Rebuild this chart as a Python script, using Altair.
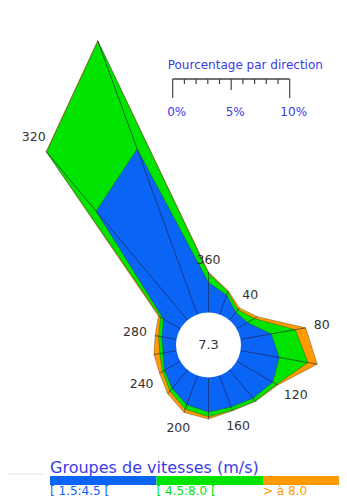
import altair as alt
import pandas as pd

# ---------------- data ----------------
DIRS = [20, 40, 60, 80, 100, 120, 140, 160, 180, 200, 220, 240, 260, 280, 300, 320, 340, 360]
LOW = [1.8, 0.9, 1.1, 2.7, 3.4, 3.6, 3.2, 2.9, 3.0, 2.7, 2.1, 1.6, 1.2, 1.3, 1.7, 12.2, 15.1, 2.6]
MID = [0.3, 0.3, 0.7, 2.1, 2.5, 0.4, 0.3, 0.3, 0.4, 0.4, 0.3, 0.2, 0.3, 0.3, 0.3, 6.6, 9.8, 0.8]
HIGH = [0.1, 0.2, 0.3, 0.9, 0.8, 0.1, 0.05, 0.05, 0.2, 0.3, 0.3, 0.3, 0.5, 0.3, 0.2, 0.05, 0.05, 0.1]
CALM = "7.3"
LABEL_DIRS = [360, 40, 80, 120, 160, 200, 240, 280, 320]
CLASSES = ["[ 1.5:4.5 [", "[ 4.5:8.0 [", "> à 8.0"]
COLORS = ["#0a64f5", "#00e400", "#ff9a00"]
SCALE_TICKS = list(range(0, 11))
SCALE_LABELS = ["0%", "5%", "10%"]
SCALE_LABEL_VALUES = [0, 5, 10]
SCALE_TITLE = "Pourcentage par direction"
LEGEND_TITLE = "Groupes de vitesses (m/s)"

# ---------------- layout ----------------
W, H = 331, 490
CX, CY, R0, K = 208.5, 345.0, 32.0, 11.7   # centre, calm-hole radius, px per percent
SBX0, SBY = 172.7, 79.0                     # scale bar origin
LEGX0, LEGW, LEGY = 50.0, 106.5, 476.0
FONT = "DejaVu Sans"
TXT_BLUE = "#3b3be8"

xs = alt.Scale(domain=[8, 8 + W], nice=False, zero=False)
ys = alt.Scale(domain=[8, 8 + H], nice=False, zero=False, reverse=True)


def X(f):
    return alt.X(f, type="quantitative", scale=xs, axis=None)


def Y(f):
    return alt.Y(f, type="quantitative", scale=ys, axis=None)


# polygons (cumulative)
rows = []
series = [LOW, MID, HIGH]
for k in range(3):
    for i, d in enumerate(DIRS):
        cum = sum(series[j][i] for j in range(k + 1))
        rows.append({"k": k, "cls": CLASSES[k], "dir": d, "cum": cum})
poly = pd.DataFrame(rows)

totals = pd.DataFrame({"dir": DIRS, "total": [LOW[i] + MID[i] + HIGH[i] for i in range(len(DIRS))]})

layers = []
for k in [2, 1, 0]:
    layers.append(
        alt.Chart(poly)
        .transform_filter(f"datum.k == {k}")
        .transform_calculate(
            r=f"{R0} + datum.cum * {K}",
            x=f"{CX} + datum.r * sin(datum.dir * PI / 180)",
            y=f"{CY} - datum.r * cos(datum.dir * PI / 180)",
        )
        .mark_line(interpolate="linear-closed", fill=COLORS[k], stroke="#222",
                   strokeWidth=0.6, strokeOpacity=0.55)
        .encode(x=X("x"), y=Y("y"), order=alt.Order("dir:Q"))
    )

# radial lines
layers.append(
    alt.Chart(totals)
    .transform_calculate(
        rt=f"{R0} + datum.total * {K}",
        s="sin(datum.dir * PI / 180)",
        c="cos(datum.dir * PI / 180)",
        x1=f"{CX} + {R0} * datum.s",
        y1=f"{CY} - {R0} * datum.c",
        x2=f"{CX} + datum.rt * datum.s",
        y2=f"{CY} - datum.rt * datum.c",
    )
    .mark_rule(color="#1c1c3c", strokeWidth=0.7, opacity=0.85)
    .encode(x=X("x1"), y=Y("y1"), x2="x2:Q", y2="y2:Q")
)

# calm hole
calm_df = pd.DataFrame({"calm": [CALM]})
layers.append(
    alt.Chart(calm_df)
    .transform_calculate(cx=f"{CX}", cy=f"{CY}")
    .mark_circle(size=(2 * R0 + 1) ** 2, color="white", opacity=1)
    .encode(x=X("cx"), y=Y("cy"))
)
layers.append(
    alt.Chart(calm_df)
    .transform_calculate(cx=f"{CX}", cy=f"{CY}")
    .mark_text(font=FONT, fontSize=13, color="#333")
    .encode(x=X("cx"), y=Y("cy"), text="calm:N")
)

# direction labels
lab = totals[totals["dir"].isin(LABEL_DIRS)].copy()
lab["lab"] = lab["dir"].astype(str)
layers.append(
    alt.Chart(lab)
    .transform_calculate(
        s="sin(datum.dir * PI / 180)",
        c="cos(datum.dir * PI / 180)",
        rt=f"{R0} + datum.total * {K}",
        off="7 + abs(datum.s) * length(datum.lab) * 4.2 + abs(datum.c) * 5.5",
        lx=f"{CX} + (datum.rt + datum.off) * datum.s",
        ly=f"{CY} - (datum.rt + datum.off) * datum.c",
    )
    .mark_text(font=FONT, fontSize=12.5, color="#333", baseline="middle")
    .encode(x=X("lx"), y=Y("ly"), text="lab:N")
)

# scale bar
ticks = pd.DataFrame({"t": SCALE_TICKS})
layers.append(
    alt.Chart(ticks)
    .transform_aggregate(tmin="min(t)", tmax="max(t)")
    .transform_calculate(x1=f"{SBX0} + datum.tmin * {K}", x2=f"{SBX0} + datum.tmax * {K}", y=f"{SBY}")
    .mark_rule(color="#444", strokeWidth=1.3)
    .encode(x=X("x1"), x2="x2:Q", y=Y("y"))
)
layers.append(
    alt.Chart(ticks)
    .transform_calculate(
        x=f"{SBX0} + datum.t * {K}",
        y1=f"{SBY}",
        y2=f"{SBY} + (datum.t == 0 || datum.t == 10 ? 19 : (datum.t == 5 ? 11 : 5))",
    )
    .mark_rule(color="#444", strokeWidth=1.2)
    .encode(x=X("x"), y=Y("y1"), y2="y2:Q")
)
sl = pd.DataFrame({"t": SCALE_LABEL_VALUES, "lab": SCALE_LABELS})
layers.append(
    alt.Chart(sl)
    .transform_calculate(x=f"{SBX0} + datum.t * {K} + 4", y=f"{SBY} + 33")
    .mark_text(font=FONT, fontSize=12, color=TXT_BLUE, baseline="middle")
    .encode(x=X("x"), y=Y("y"), text="lab:N")
)
layers.append(
    alt.Chart(pd.DataFrame({"title": [SCALE_TITLE]}))
    .transform_calculate(x=f"{SBX0} - 5", y=f"{SBY} - 14")
    .mark_text(font=FONT, fontSize=12, color=TXT_BLUE, align="left", baseline="middle")
    .encode(x=X("x"), y=Y("y"), text="title:N")
)

# legend
leg = pd.DataFrame({"i": list(range(len(CLASSES))), "cls": CLASSES})
cscale = alt.Scale(domain=CLASSES, range=COLORS)
layers.append(
    alt.Chart(pd.DataFrame({"title": [LEGEND_TITLE]}))
    .transform_calculate(x=f"{LEGX0}", y=f"{LEGY} - 8")
    .mark_text(font=FONT, fontSize=16, color=TXT_BLUE, align="left", baseline="middle")
    .encode(x=X("x"), y=Y("y"), text="title:N")
)
layers.append(
    alt.Chart(pd.DataFrame({"a": [0]}))
    .transform_calculate(x1="8", x2="43", y=f"{LEGY} - 2")
    .mark_rule(color="#e4e4e4", strokeWidth=1)
    .encode(x=X("x1"), x2="x2:Q", y=Y("y"))
)
layers.append(
    alt.Chart(leg)
    .transform_calculate(x1=f"{LEGX0} + datum.i * {LEGW}", x2=f"{LEGX0} + (datum.i + 1) * {LEGW}",
                         y1=f"{LEGY}", y2=f"{LEGY} + 9")
    .mark_rect()
    .encode(x=X("x1"), x2="x2:Q", y=Y("y1"), y2="y2:Q",
            color=alt.Color("cls:N", scale=cscale, legend=None))
)
layers.append(
    alt.Chart(leg)
    .transform_calculate(x=f"{LEGX0} + datum.i * {LEGW}", y=f"{LEGY} + 10")
    .mark_text(font=FONT, fontSize=12, align="left", baseline="top")
    .encode(x=X("x"), y=Y("y"), text="cls:N",
            color=alt.Color("cls:N", scale=cscale, legend=None))
)

chart = (
    alt.layer(*layers)
    .properties(width=W, height=H, padding=0, autosize=alt.AutoSizeParams(type="none"))
    .configure_view(stroke=None)
)
chart.save("out.html", embed_options={"renderer": "svg", "actions": False})
